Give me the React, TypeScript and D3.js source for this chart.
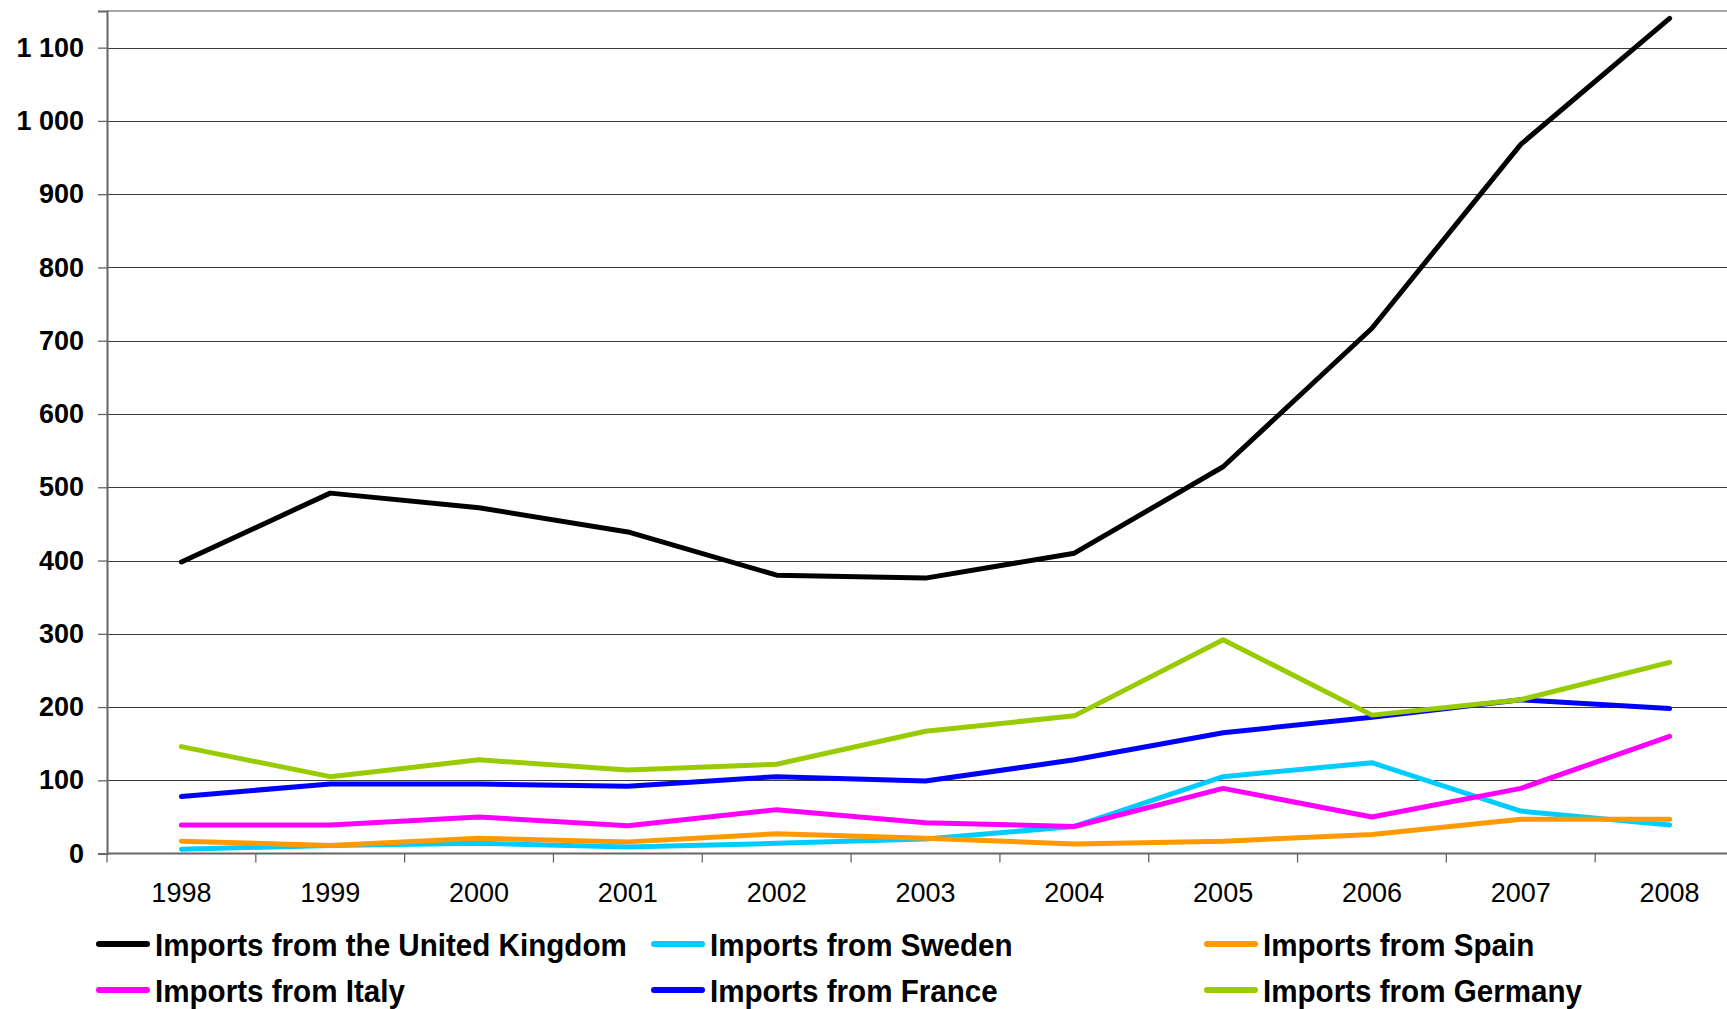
import React, { useEffect, useRef } from 'react';
import * as d3 from 'd3';

const years = ['1998', '1999', '2000', '2001', '2002', '2003', '2004', '2005', '2006', '2007', '2008'];
const yTicks = [0, 100, 200, 300, 400, 500, 600, 700, 800, 900, 1000, 1100];

const unitedKingdom = [398, 492, 472, 439, 380, 376, 410, 528, 717, 968, 1140];
const sweden = [6, 11, 14, 9, 14, 20, 37, 105, 124, 58, 39];
const spain = [17, 11, 21, 16, 27, 21, 13, 17, 26, 47, 47];
const italy = [39, 39, 50, 38, 60, 42, 37, 89, 50, 89, 160];
const france = [78, 95, 95, 92, 105, 99, 128, 165, 186, 210, 198];
const germany = [146, 105, 128, 114, 122, 167, 188, 292, 189, 210, 261];

interface Series {
	name: string;
	color: string;
	values: number[];
}

const series: Series[] = [
	{ name: 'Imports from the United Kingdom', color: '#000000', values: unitedKingdom },
	{ name: 'Imports from Sweden', color: '#00CCFF', values: sweden },
	{ name: 'Imports from Spain', color: '#FF9900', values: spain },
	{ name: 'Imports from Italy', color: '#FF00FF', values: italy },
	{ name: 'Imports from France', color: '#0000FF', values: france },
	{ name: 'Imports from Germany', color: '#99CC00', values: germany },
];

const width = 1727;
const height = 1009;
const font = '"Liberation Sans", Arial, Helvetica, sans-serif';

const App: React.FC = () => {
	const svgRef = useRef<SVGSVGElement>(null);

	useEffect(() => {
		const svg = d3.select(svgRef.current);
		svg.selectAll('*').remove();

		// plot area runs past the right edge of the picture (it is cropped there)
		const plot = { left: 107, top: 11, right: 1744, bottom: 853.6 };

		const x = d3.scaleBand<string>().domain(years).range([plot.left, plot.right]).padding(0);
		const y = d3.scaleLinear().domain([0, 1150]).range([plot.bottom, plot.top]);

		svg.append('rect').attr('width', width).attr('height', height).attr('fill', '#fff');

		// horizontal gridlines
		svg
			.append('g')
			.selectAll('line')
			.data(yTicks.filter((t) => t > 0))
			.enter()
			.append('line')
			.attr('x1', plot.left)
			.attr('x2', plot.right)
			.attr('y1', (d) => Math.round(y(d)) + 0.5)
			.attr('y2', (d) => Math.round(y(d)) + 0.5)
			.attr('stroke', '#3a3a3a')
			.attr('stroke-width', 1);

		// top border of plot area
		svg
			.append('line')
			.attr('x1', plot.left)
			.attr('x2', plot.right)
			.attr('y1', plot.top)
			.attr('y2', plot.top)
			.attr('stroke', '#8a8a8a')
			.attr('stroke-width', 1.5);

		// y axis
		const yAxis = svg
			.append('g')
			.attr('transform', `translate(${plot.left},0)`)
			.call(
				d3
					.axisLeft(y)
					.tickValues(yTicks)
					.tickSize(9)
					.tickPadding(14)
					.tickFormat((d) => d3.format(',')(d as number).replace(',', '\u00a0'))
			);
		yAxis.select('.domain').attr('stroke', '#666').attr('stroke-width', 2);
		yAxis.selectAll('.tick line').attr('stroke', '#666').attr('stroke-width', 1.3);
		yAxis
			.selectAll('.tick text')
			.attr('fill', '#000')
			.style('font-family', font)
			.style('font-size', '27px')
			.style('font-weight', 'bold');

		// x axis with ticks between categories
		const xAxis = svg.append('g').attr('transform', `translate(0,${plot.bottom})`);
		xAxis
			.append('line')
			.attr('x1', plot.left)
			.attr('x2', plot.right)
			.attr('stroke', '#666')
			.attr('stroke-width', 2);
		xAxis
			.selectAll('line.tick')
			.data(years)
			.enter()
			.append('line')
			.attr('class', 'tick')
			.attr('x1', (d) => x(d) as number)
			.attr('x2', (d) => x(d) as number)
			.attr('y1', 0)
			.attr('y2', 9)
			.attr('stroke', '#666')
			.attr('stroke-width', 1.3);
		xAxis
			.selectAll('text')
			.data(years)
			.enter()
			.append('text')
			.attr('x', (d) => (x(d) as number) + x.bandwidth() / 2)
			.attr('y', 48)
			.attr('text-anchor', 'middle')
			.style('font-family', font)
			.style('font-size', '27px')
			.text((d) => d);

		// series lines
		const line = d3
			.line<number>()
			.x((_, i) => (x(years[i]) as number) + x.bandwidth() / 2)
			.y((d) => y(d));

		svg
			.append('g')
			.selectAll('path')
			.data(series)
			.enter()
			.append('path')
			.attr('d', (d) => line(d.values) as string)
			.attr('fill', 'none')
			.attr('stroke', (d) => d.color)
			.attr('stroke-width', 5)
			.attr('stroke-linecap', 'round')
			.attr('stroke-linejoin', 'round');

		// legend, 3 columns by 2 rows
		const colX = [97, 652, 1205];
		const rowY = [944, 990];
		const legend = svg
			.append('g')
			.selectAll('g')
			.data(series)
			.enter()
			.append('g')
			.attr('transform', (_, i) => `translate(${colX[i % 3]},${rowY[Math.floor(i / 3)]})`);
		legend
			.append('line')
			.attr('x1', 2)
			.attr('x2', 50)
			.attr('stroke', (d) => d.color)
			.attr('stroke-width', 6)
			.attr('stroke-linecap', 'round');
		legend
			.append('text')
			.attr('transform', 'translate(58,12) scale(0.955,1)')
			.style('font-family', font)
			.style('font-size', '31px')
			.style('font-weight', 'bold')
			.text((d) => d.name);
	}, []);

	return (
		<div style={{ position: 'absolute', left: 0, top: 0, width, height, overflow: 'hidden' }}>
			<svg ref={svgRef} width={width} height={height} style={{ display: 'block' }} />
		</div>
	);
};

export default App;
